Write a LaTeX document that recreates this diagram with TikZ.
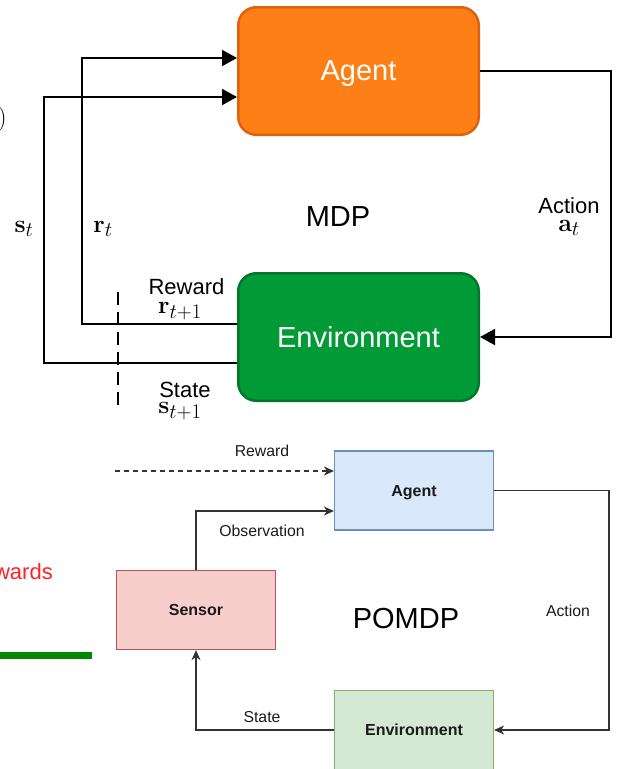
\documentclass[tikz,border=0pt]{standalone}
\usepackage[no-math]{fontspec}
\setmainfont{Liberation Sans}
\usetikzlibrary{arrows.meta}

\definecolor{agentO}{HTML}{FD7F15}
\definecolor{agentOb}{HTML}{DC620F}
\definecolor{envG}{HTML}{009A36}
\definecolor{envGb}{HTML}{00772A}
\definecolor{pAgentF}{HTML}{DAE8FC}
\definecolor{pAgentB}{HTML}{6C8EBF}
\definecolor{pSensF}{HTML}{F8CECC}
\definecolor{pSensB}{HTML}{B85450}
\definecolor{pEnvF}{HTML}{D5E8D4}
\definecolor{pEnvB}{HTML}{82B366}
\definecolor{wireGray}{HTML}{333333}
\definecolor{inkDark}{HTML}{1A1A1A}
\definecolor{wardsRed}{HTML}{FF2222}
\definecolor{barGreen}{HTML}{008800}

\begin{document}
\begin{tikzpicture}[x=1pt,y=-1pt,
  bigbox/.style={draw, line width=2.5pt, rounded corners=18pt,
    minimum width=240.5pt, minimum height=127.5pt, inner sep=0pt,
    text depth=0pt, text=white, font=\fontsize{29}{32}\selectfont},
  wire/.style={line width=2pt, black},
  bigtip/.style={-{Triangle[length=15pt,width=16pt]}},
  lab/.style={font=\fontsize{22}{24}\selectfont, inner sep=0pt},
  mlab/.style={font=\fontsize{30}{32}\selectfont, inner sep=0pt},
  smallbox/.style={draw, line width=1.2pt, minimum width=159pt,
    minimum height=79pt, inner sep=0pt, text depth=0pt, text=inkDark,
    font=\bfseries\fontsize{16}{18}\selectfont},
  fineline/.style={line width=1.3pt, wireGray},
  smalltip/.style={-{Stealth[length=10pt,width=9pt,inset=3pt]}},
  slab/.style={font=\fontsize{15.8}{18}\selectfont, inner sep=0pt, text=inkDark},
  biglab/.style={font=\fontsize{29}{32}\selectfont, inner sep=0pt},
]
\useasboundingbox (0,0) rectangle (619,769);

% ---------- MDP loop ----------
\node[bigbox, fill=agentO, draw=agentOb] (agent) at (358.5,71) {Agent};
\node[bigbox, fill=envG, draw=envGb] (env) at (358.5,337) {Environment};

\draw[wire,bigtip] ([yshift=13pt]env.west) -| (82,58) -- ([yshift=13pt]agent.west);
\draw[wire,bigtip] ([yshift=-26pt]env.west) -| (44,97) -- ([yshift=-26pt]agent.west);
\draw[wire,bigtip] (agent.east) -| (611,337) -- (env.east);

% time step boundary
\draw[line width=1.6pt, dash pattern=on 13pt off 7pt] (118,292) -- (118,408);

\node[lab] (rewlab) at (186.5,287) {Reward};
\node[mlab] (rewsym) at (180,311) {$\mathbf{r}_{t+1}$};
\node[lab] (statelab) at (185,389.5) {State};
\node[mlab] (statesym) at (180,411) {$\mathbf{s}_{t+1}$};
\node[lab] (actlab) at (569,206) {Action};
\node[mlab] (actsym) at (569,228) {$\mathbf{a}_t$};
\node[mlab] (stsym) at (24,229) {$\mathbf{s}_t$};
\node[mlab] (rtsym) at (103,229) {$\mathbf{r}_t$};
\node[biglab] (mdp) at (338,217) {MDP};

% fragments at the left edge
\node[mlab, anchor=base east] (paren) at (7,125) {$)$};
\node[font=\fontsize{22}{24}\selectfont, text=wardsRed, anchor=base east, inner sep=0pt] (wards) at (53,579) {wards};
\draw[line width=7pt, barGreen] (0,655) -- (92,655);

% ---------- POMDP loop ----------
\node[smallbox, fill=pAgentF, draw=pAgentB] (agent2) at (414,490.5) {Agent};
\node[smallbox, fill=pSensF, draw=pSensB] (sensor) at (196,610) {Sensor};
\node[smallbox, fill=pEnvF, draw=pEnvB] (env2) at (414,730) {Environment};

\coordinate (rewsrc) at (115,471);
\draw[fineline, smalltip, dash pattern=on 5pt off 4pt] (rewsrc) -- ([yshift=19.5pt]agent2.west);
\draw[fineline, smalltip] (sensor.north) |- ([yshift=-20.5pt]agent2.west);
\draw[fineline, smalltip] (env2.west) -| (sensor.south);
\draw[fineline, smalltip] (agent2.east) -| (609,730) -- (env2.east);

\node[slab] (rew2) at (262,451) {Reward};
\node[slab] (obs2) at (262,531) {Observation};
\node[slab] (state2) at (262,717) {State};
\node[slab] (act2) at (568,611) {Action};
\node[biglab] (pomdp) at (406,619) {POMDP};
\end{tikzpicture}
\end{document}
